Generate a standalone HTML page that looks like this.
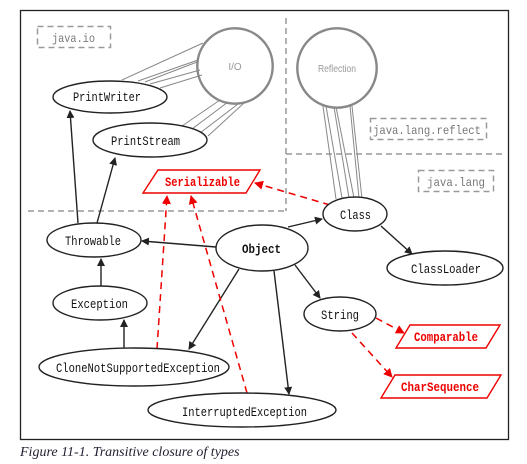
<!DOCTYPE html>
<html><head><style>body{margin:0;background:#fff}svg{display:block}</style></head><body>
<svg width="527" height="464" viewBox="0 0 527 464" xmlns="http://www.w3.org/2000/svg">
<defs>
<marker id="a" markerWidth="8" markerHeight="8" refX="7" refY="4" orient="auto" markerUnits="userSpaceOnUse"><path d="M0,0L8,4L0,8z" fill="#222"/></marker>
<marker id="r" markerWidth="9" markerHeight="9" refX="8" refY="4.5" orient="auto" markerUnits="userSpaceOnUse"><path d="M0,0L9,4.5L0,9z" fill="#e00"/></marker>
</defs>
<rect x="20.5" y="10.5" width="488" height="429" fill="#fff" stroke="#222" stroke-width="1.3"/>
<g stroke="#999" stroke-width="1.5" stroke-dasharray="6,4" fill="none">
<line x1="286" y1="18" x2="286" y2="211"/>
<line x1="28" y1="211" x2="286" y2="211"/>
<line x1="286" y1="154" x2="504" y2="154"/>
<rect x="37.5" y="26.5" width="73" height="21"/>
<rect x="370.5" y="118.5" width="116" height="21"/>
<rect x="418.5" y="170.5" width="75" height="21"/>
</g>
<g font-family="Liberation Mono, monospace" font-size="12" fill="#777">
<text x="52" y="42" textLength="43" lengthAdjust="spacingAndGlyphs">java.io</text>
<text x="373" y="134" textLength="108" lengthAdjust="spacingAndGlyphs">java.lang.reflect</text>
<text x="427" y="186" textLength="58" lengthAdjust="spacingAndGlyphs">java.lang</text>
</g>
<g stroke="#888" stroke-width="1" fill="none">
<line x1="122" y1="80" x2="203" y2="43"/><line x1="138" y1="81" x2="198" y2="60"/><line x1="150" y1="84" x2="200" y2="70"/><line x1="160" y1="88" x2="202" y2="75"/><line x1="145" y1="82" x2="197" y2="62"/>
<line x1="182" y1="126" x2="220" y2="100"/><line x1="192" y1="129" x2="228" y2="102"/><line x1="200" y1="133" x2="238" y2="104"/><line x1="208" y1="136" x2="244" y2="103"/>
<line x1="323" y1="106" x2="336" y2="199"/><line x1="326" y1="106" x2="342" y2="198"/><line x1="334" y1="107" x2="349" y2="198"/><line x1="336" y1="107" x2="354" y2="198"/><line x1="350" y1="106" x2="359" y2="198"/><line x1="352" y1="106" x2="362" y2="199"/>
<circle cx="235" cy="66" r="38" stroke-width="1.8"/><circle cx="235" cy="66" r="37"/>
<circle cx="337" cy="68" r="40" stroke-width="1.8"/><circle cx="337" cy="68" r="39"/>
</g>
<g font-family="Liberation Sans, sans-serif" font-size="10" fill="#999" text-anchor="middle">
<text x="235" y="70">I/O</text><text x="337" y="72" textLength="38" lengthAdjust="spacingAndGlyphs">Reflection</text>
</g>
<g stroke="#222" stroke-width="1.4" marker-end="url(#a)">
<line x1="78" y1="223" x2="70" y2="111"/>
<line x1="97" y1="223" x2="115" y2="158"/>
<line x1="216" y1="247" x2="142" y2="241"/>
<line x1="288" y1="227" x2="322" y2="219"/>
<line x1="381" y1="226" x2="412" y2="254"/>
<line x1="295" y1="265" x2="320" y2="298"/>
<line x1="239" y1="269" x2="189" y2="349"/>
<line x1="274" y1="271" x2="289" y2="394"/>
<line x1="101" y1="286" x2="101" y2="259"/>
<line x1="124" y1="349" x2="124" y2="320"/>
</g>
<g stroke="#e00" stroke-width="1.5" stroke-dasharray="7,5" marker-end="url(#r)" fill="none">
<line x1="330" y1="205" x2="255" y2="183"/>
<line x1="157" y1="349" x2="167" y2="196"/>
<line x1="247" y1="393" x2="191" y2="196"/>
<line x1="376" y1="318" x2="404" y2="333"/>
<line x1="352" y1="333" x2="392" y2="377"/>
</g>
<g fill="#fff" stroke="#222" stroke-width="1.4">
<ellipse cx="110" cy="97" rx="57" ry="16"/>
<ellipse cx="150" cy="140" rx="57" ry="17"/>
<ellipse cx="94" cy="240" rx="47" ry="17"/>
<ellipse cx="262" cy="248" rx="46" ry="23"/>
<ellipse cx="355" cy="214" rx="32" ry="17"/>
<ellipse cx="445" cy="268" rx="58" ry="17"/>
<ellipse cx="100" cy="303" rx="47" ry="17"/>
<ellipse cx="340" cy="314" rx="36" ry="17"/>
<ellipse cx="134" cy="367" rx="95" ry="19"/>
<ellipse cx="242" cy="410" rx="94" ry="17"/>
</g>
<g fill="#fff" stroke="#e00" stroke-width="1.4">
<polygon points="158,170 260,170 246,193 143,193"/>
<polygon points="410,325 500,325 486,348 396,348"/>
<polygon points="395,375 501,375 487,398 381,398"/>
</g>
<g font-family="Liberation Mono, monospace" font-size="13" fill="#111">
<text x="73" y="101" textLength="68" lengthAdjust="spacingAndGlyphs">PrintWriter</text>
<text x="111" y="145" textLength="69" lengthAdjust="spacingAndGlyphs">PrintStream</text>
<text x="65" y="245" textLength="56" lengthAdjust="spacingAndGlyphs">Throwable</text>
<text x="242" y="253" font-weight="bold" textLength="39" lengthAdjust="spacingAndGlyphs">Object</text>
<text x="340" y="219" textLength="31" lengthAdjust="spacingAndGlyphs">Class</text>
<text x="411" y="273" textLength="70" lengthAdjust="spacingAndGlyphs">ClassLoader</text>
<text x="71" y="308" textLength="57" lengthAdjust="spacingAndGlyphs">Exception</text>
<text x="321" y="319" textLength="38" lengthAdjust="spacingAndGlyphs">String</text>
<text x="56" y="372" textLength="164" lengthAdjust="spacingAndGlyphs">CloneNotSupportedException</text>
<text x="182" y="416" textLength="125" lengthAdjust="spacingAndGlyphs">InterruptedException</text>
</g>
<g font-family="Liberation Mono, monospace" font-size="13" font-weight="bold" fill="#e00">
<text x="165" y="186" textLength="75" lengthAdjust="spacingAndGlyphs">Serializable</text>
<text x="414" y="341" textLength="64" lengthAdjust="spacingAndGlyphs">Comparable</text>
<text x="401" y="391" textLength="78" lengthAdjust="spacingAndGlyphs">CharSequence</text>
</g>
<text x="20" y="456" font-family="Liberation Serif, serif" font-style="italic" font-size="14" fill="#223">Figure 11-1. Transitive closure of types</text>
</svg>
</body></html>
